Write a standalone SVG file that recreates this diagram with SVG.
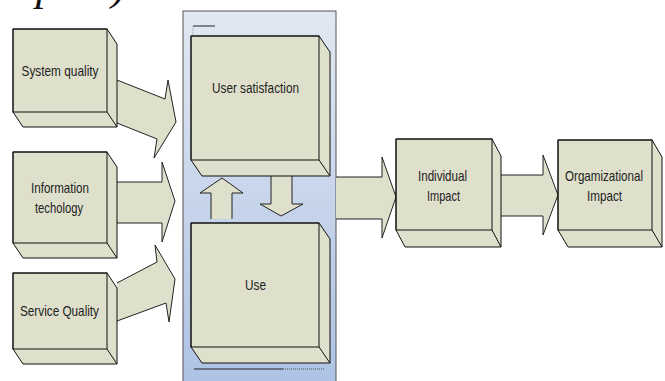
<svg xmlns="http://www.w3.org/2000/svg" width="665" height="381" viewBox="0 0 665 381">
<defs>
<linearGradient id="pg" x1="0" y1="0" x2="0" y2="1">
<stop offset="0" stop-color="#e2e8f2"/>
<stop offset="1" stop-color="#adc2e4"/>
</linearGradient>
<style>
.box{fill:#dfe0cb;stroke:#111;stroke-width:1;stroke-linejoin:round}
.edge{fill:none;stroke:#111;stroke-width:1}
.arr{fill:#dfe0cb;stroke:#222;stroke-width:1;stroke-linejoin:miter}
.lbl{font-family:"Liberation Sans",Arial,sans-serif;font-size:15px;fill:#222;text-anchor:middle}
.cut{font-family:"Liberation Serif","Times New Roman",serif;font-style:italic;font-size:42px;fill:#111}
</style>
</defs>
<rect width="665" height="381" fill="#fff"/>
<text class="cut" x="4" y="0" textLength="122" lengthAdjust="spacingAndGlyphs">mpact)</text>

<g id="connectors">
<path class="arr" d="M117,80 L165,99 L168,80 L176,122 L154,158 L157,139 L117,123"/>
<path class="arr" d="M117,182 H162 V162 L175,201 L162,242 V223 H117"/>
<path class="arr" d="M117,283 L157,262 L155,245 L175,279 L169,322 L166,303 L117,321"/>
</g>

<g id="panel">
<rect x="183" y="11" width="153" height="375" fill="url(#pg)" stroke="#555" stroke-width="1"/>
<path d="M193,26 H215" stroke="#222" stroke-width="1" fill="none"/>
<path d="M193,26 V35" stroke="#999" stroke-width="1" stroke-dasharray="1,1" fill="none"/>
<path d="M194,369 H283" stroke="#222" stroke-width="1" fill="none"/>
<path d="M283,369 H325" stroke="#555" stroke-width="1" stroke-dasharray="1,1" fill="none"/>
</g>

<g id="connectors-inner">
<path class="arr" d="M211,219 V193 H200 L222,178 L243,193 H232 V219"/>
<path class="arr" d="M271,176 V204 H260 L281,216 L303,204 H292 V176"/>
<path class="arr" d="M336,177 H382 V157 L396,197 L382,238 V219 H336"/>
<path class="arr" d="M501,175 H543 V155 L558,195 L543,235 V216 H501"/>
</g>

<g id="system-quality">
<polygon class="box" points="13,29 107,29 117,44 117,127 23,127 13,112"/>
<rect class="edge" x="13" y="29" width="94" height="83"/>
<line class="edge" x1="107" y1="112" x2="117" y2="127"/>
<text class="lbl" x="60" y="75.5" textLength="77" lengthAdjust="spacingAndGlyphs">System quality</text>
</g>

<g id="information-techology">
<polygon class="box" points="13,152 107,152 117,167 117,258 23,258 13,243"/>
<rect class="edge" x="13" y="152" width="94" height="91"/>
<line class="edge" x1="107" y1="243" x2="117" y2="258"/>
<text class="lbl" x="60" y="193.3" textLength="58" lengthAdjust="spacingAndGlyphs">Information</text>
<text class="lbl" x="59" y="213" textLength="48" lengthAdjust="spacingAndGlyphs">techology</text>
</g>

<g id="service-quality">
<polygon class="box" points="13,273 107,273 117,288 117,364 23,364 13,349"/>
<rect class="edge" x="13" y="273" width="94" height="76"/>
<line class="edge" x1="107" y1="349" x2="117" y2="364"/>
<text class="lbl" x="59.5" y="316" textLength="79" lengthAdjust="spacingAndGlyphs">Service Quality</text>
</g>

<g id="user-satisfaction">
<polygon class="box" points="191,36 319,36 330,52 330,176 202,176 191,160"/>
<rect class="edge" x="191" y="36" width="128" height="124"/>
<line class="edge" x1="319" y1="160" x2="330" y2="176"/>
<text class="lbl" x="255.5" y="92.7" textLength="87" lengthAdjust="spacingAndGlyphs">User satisfaction</text>
</g>

<g id="use">
<polygon class="box" points="191,223 319,223 330,239 330,363 202,363 191,347"/>
<rect class="edge" x="191" y="223" width="128" height="124"/>
<line class="edge" x1="319" y1="347" x2="330" y2="363"/>
<text class="lbl" x="255.5" y="290" textLength="21" lengthAdjust="spacingAndGlyphs">Use</text>
</g>

<g id="individual-impact">
<polygon class="box" points="396,139 492,139 501,156 501,247 405,247 396,230"/>
<rect class="edge" x="396" y="139" width="96" height="91"/>
<line class="edge" x1="492" y1="230" x2="501" y2="247"/>
<text class="lbl" x="442.5" y="181" textLength="49" lengthAdjust="spacingAndGlyphs">Individual</text>
<text class="lbl" x="443.5" y="201" textLength="33" lengthAdjust="spacingAndGlyphs">Impact</text>
</g>

<g id="organizational-impact">
<polygon class="box" points="558,140 652,140 662,157 662,247 568,247 558,230"/>
<rect class="edge" x="558" y="140" width="94" height="90"/>
<line class="edge" x1="652" y1="230" x2="662" y2="247"/>
<text class="lbl" x="604" y="181" textLength="78" lengthAdjust="spacingAndGlyphs">Orgamizational</text>
<text class="lbl" x="604.5" y="201" textLength="35" lengthAdjust="spacingAndGlyphs">Impact</text>
</g>
</svg>
